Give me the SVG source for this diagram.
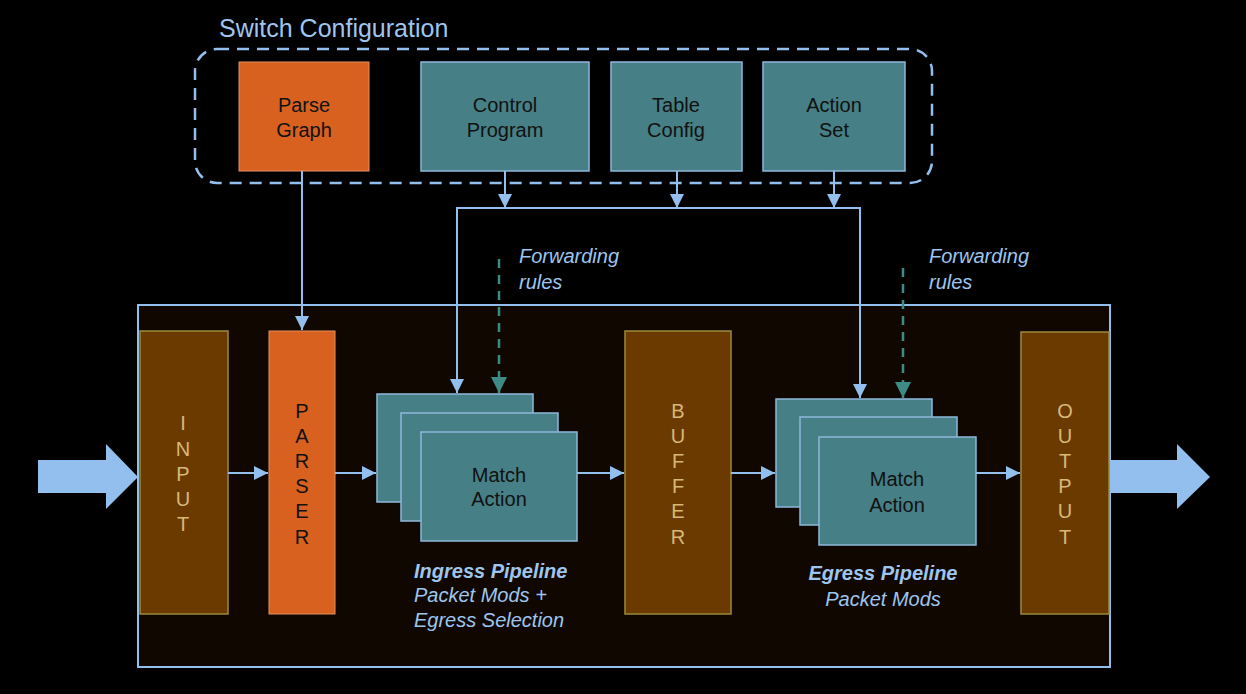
<svg xmlns="http://www.w3.org/2000/svg" width="1246" height="694" viewBox="0 0 1246 694">
<defs>
<style>
.conn{stroke:#92bfee;stroke-width:2;fill:none}
.dash{stroke:#3d8a86;stroke-width:2.5;fill:none;stroke-dasharray:9 7}
.teal{fill:#467f85;stroke:#8fb8dc;stroke-width:1.5}
.orange{fill:#d8611f;stroke:#e49060;stroke-width:1}
.brown{fill:#6b3a00;stroke:#9a8a3a;stroke-width:1.5}
.lbl{font-family:"Liberation Sans",Arial,sans-serif;font-size:20px;fill:#111;text-anchor:middle}
.vert{font-family:"Liberation Sans",Arial,sans-serif;font-size:20px;text-anchor:middle}
.note{font-family:"Liberation Sans",Arial,sans-serif;font-size:20px;fill:#9ec5ee;font-style:italic}
</style>
<marker id="ah" viewBox="0 0 10 10" refX="10" refY="5" markerWidth="14" markerHeight="14" markerUnits="userSpaceOnUse" orient="auto"><path d="M0,0L10,5L0,10z" fill="#92bfee"/></marker>
<marker id="aht" viewBox="0 0 10 10" refX="10" refY="5" markerWidth="16" markerHeight="16" markerUnits="userSpaceOnUse" orient="auto"><path d="M0,0L10,5L0,10z" fill="#3d8a86"/></marker>
</defs>
<rect width="1246" height="694" fill="#000"/>
<g id="config">
<rect x="195" y="49" width="737" height="134" rx="22" fill="none" stroke="#92bfee" stroke-width="2.5" stroke-dasharray="12 8"/>
<text x="219" y="37" font-family="Liberation Sans,Arial,sans-serif" font-size="25" fill="#9ec5ee">Switch Configuration</text>
</g>
<g id="parse-graph"><rect class="orange" x="239" y="62" width="130" height="109"/><text class="lbl" x="304" y="112">Parse</text><text class="lbl" x="304" y="137">Graph</text></g>
<g id="control-program"><rect class="teal" x="421" y="62" width="168" height="109"/><text class="lbl" x="505" y="112">Control</text><text class="lbl" x="505" y="137">Program</text></g>
<g id="table-config"><rect class="teal" x="611" y="62" width="131" height="109"/><text class="lbl" x="676" y="112">Table</text><text class="lbl" x="676" y="137">Config</text></g>
<g id="action-set"><rect class="teal" x="763" y="62" width="142" height="109"/><text class="lbl" x="834" y="112">Action</text><text class="lbl" x="834" y="137">Set</text></g>
<g id="switch"><rect x="138" y="305" width="972" height="362" fill="#100800" stroke="#92bfee" stroke-width="2"/></g>
<g id="input"><rect class="brown" x="140" y="331" width="88" height="283"/>
<text class="vert" fill="#d8b878" x="183" y="430">I</text><text class="vert" fill="#d8b878" x="183" y="456">N</text><text class="vert" fill="#d8b878" x="183" y="481">P</text><text class="vert" fill="#d8b878" x="183" y="506">U</text><text class="vert" fill="#d8b878" x="183" y="531">T</text></g>
<g id="parser"><rect class="orange" x="269" y="331" width="66" height="283"/>
<text class="vert" fill="#111" x="302" y="418">P</text><text class="vert" fill="#111" x="302" y="443">A</text><text class="vert" fill="#111" x="302" y="468">R</text><text class="vert" fill="#111" x="302" y="493">S</text><text class="vert" fill="#111" x="302" y="518">E</text><text class="vert" fill="#111" x="302" y="544">R</text></g>
<g id="ingress">
<rect class="teal" x="377" y="394" width="156" height="108"/>
<rect class="teal" x="401" y="413" width="157" height="108"/>
<rect class="teal" x="421" y="432" width="156" height="109"/>
<text class="lbl" x="499" y="482">Match</text><text class="lbl" x="499" y="506">Action</text>
<text class="note" x="414" y="578" font-weight="bold">Ingress Pipeline</text>
<text class="note" x="414" y="602">Packet Mods +</text>
<text class="note" x="414" y="627">Egress Selection</text>
</g>
<g id="buffer"><rect class="brown" x="625" y="331" width="106" height="283"/>
<text class="vert" fill="#d8b878" x="678" y="418">B</text><text class="vert" fill="#d8b878" x="678" y="443">U</text><text class="vert" fill="#d8b878" x="678" y="468">F</text><text class="vert" fill="#d8b878" x="678" y="493">F</text><text class="vert" fill="#d8b878" x="678" y="518">E</text><text class="vert" fill="#d8b878" x="678" y="544">R</text></g>
<g id="egress">
<rect class="teal" x="776" y="399" width="156" height="108"/>
<rect class="teal" x="800" y="417" width="157" height="108"/>
<rect class="teal" x="819" y="437" width="157" height="108"/>
<text class="lbl" x="897" y="486">Match</text><text class="lbl" x="897" y="512">Action</text>
<text class="note" x="883" y="580" font-weight="bold" text-anchor="middle">Egress Pipeline</text>
<text class="note" x="883" y="606" text-anchor="middle">Packet Mods</text>
</g>
<g id="output"><rect class="brown" x="1021" y="332" width="88" height="282"/>
<text class="vert" fill="#d8b878" x="1065" y="418">O</text><text class="vert" fill="#d8b878" x="1065" y="443">U</text><text class="vert" fill="#d8b878" x="1065" y="468">T</text><text class="vert" fill="#d8b878" x="1065" y="493">P</text><text class="vert" fill="#d8b878" x="1065" y="518">U</text><text class="vert" fill="#d8b878" x="1065" y="544">T</text></g>
<g id="fwd-labels">
<text class="note" x="519" y="263">Forwarding</text><text class="note" x="519" y="289">rules</text>
<text class="note" x="929" y="263">Forwarding</text><text class="note" x="929" y="289">rules</text>
</g>
<g id="connectors">
<path d="M38,460H106V444L138,477L106,509V493H38z" fill="#92bfee"/>
<path d="M1110,460H1177V444L1210,477L1177,509V493H1110z" fill="#92bfee"/>
<line class="conn" x1="302" y1="171" x2="302" y2="330" marker-end="url(#ah)"/>
<line class="conn" x1="505" y1="171" x2="505" y2="208" marker-end="url(#ah)"/>
<line class="conn" x1="677" y1="171" x2="677" y2="208" marker-end="url(#ah)"/>
<line class="conn" x1="834" y1="171" x2="834" y2="208" marker-end="url(#ah)"/>
<polyline class="conn" points="457,393 457,208 860,208 860,398"/>
<line class="conn" x1="457" y1="370" x2="457" y2="393" marker-end="url(#ah)"/>
<line class="conn" x1="860" y1="370" x2="860" y2="398" marker-end="url(#ah)"/>
<line class="dash" x1="499" y1="259" x2="499" y2="393" marker-end="url(#aht)"/>
<line class="dash" x1="903" y1="268" x2="903" y2="398" marker-end="url(#aht)"/>
<line class="conn" x1="228" y1="473" x2="268" y2="473" marker-end="url(#ah)"/>
<line class="conn" x1="335" y1="473" x2="376" y2="473" marker-end="url(#ah)"/>
<line class="conn" x1="577" y1="473" x2="624" y2="473" marker-end="url(#ah)"/>
<line class="conn" x1="731" y1="473" x2="775" y2="473" marker-end="url(#ah)"/>
<line class="conn" x1="976" y1="473" x2="1020" y2="473" marker-end="url(#ah)"/>
</g>
</svg>
